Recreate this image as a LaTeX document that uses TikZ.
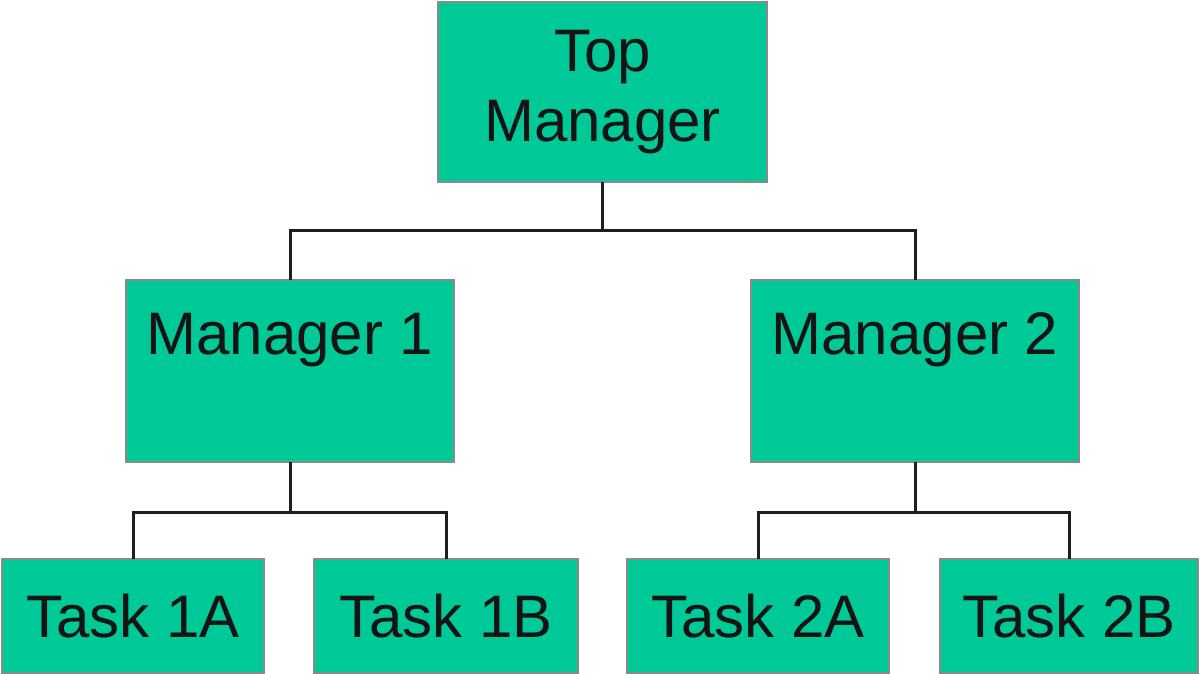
\documentclass[tikz,border=0pt]{standalone}
\usepackage{fontspec}
\setmainfont{Liberation Sans}
\definecolor{boxfill}{HTML}{00C998}
\definecolor{boxline}{HTML}{8A8A8A}
\definecolor{wire}{HTML}{1E1E1E}
\begin{document}
\begin{tikzpicture}[x=0.5pt,y=-0.5pt,
  boxfont/.style={font=\fontsize{30}{35}\selectfont, text=black!92},
  box/.style={draw=boxline, line width=0.6pt, fill=boxfill, inner sep=0pt, outer sep=0pt,
    boxfont, align=center},
  mgr/.style={box, minimum width=164pt, minimum height=91pt},
  task/.style={box, minimum width=131pt, minimum height=57pt},
  wireline/.style={draw=wire, line width=1.5pt}]
\useasboundingbox (0,0) rectangle (1200,674);
\node[box, minimum width=164.5pt, minimum height=90pt, text depth=6pt] (top) at (602.5,92) {Top\\Manager};
\node[mgr, label={[anchor=base, boxfont, yshift=-37pt, inner sep=0pt]north:Manager 1}] (m1) at (290,371) {};
\node[mgr, label={[anchor=base, boxfont, yshift=-37pt, inner sep=0pt]north:Manager 2}] (m2) at (915,371) {};
\node[task] (t1a) at (133,616) {Task 1A};
\node[task, minimum width=132pt] (t1b) at (446,616) {Task 1B};
\node[task] (t2a) at (758,616) {Task 2A};
\node[task, minimum width=129pt] (t2b) at (1069,616) {Task 2B};
\draw[wireline] (top.south) -- ++(0,48) coordinate (j0);
\draw[wireline] (m1.north) |- (j0) -| (m2.north);
\draw[wireline] (m1.south) -- ++(0,50) coordinate (j1);
\draw[wireline] (t1a.north) |- (j1) -| (t1b.north);
\draw[wireline] (m2.south) -- ++(0,50) coordinate (j2);
\draw[wireline] (t2a.north) |- (j2) -| (t2b.north);
\end{tikzpicture}
\end{document}
